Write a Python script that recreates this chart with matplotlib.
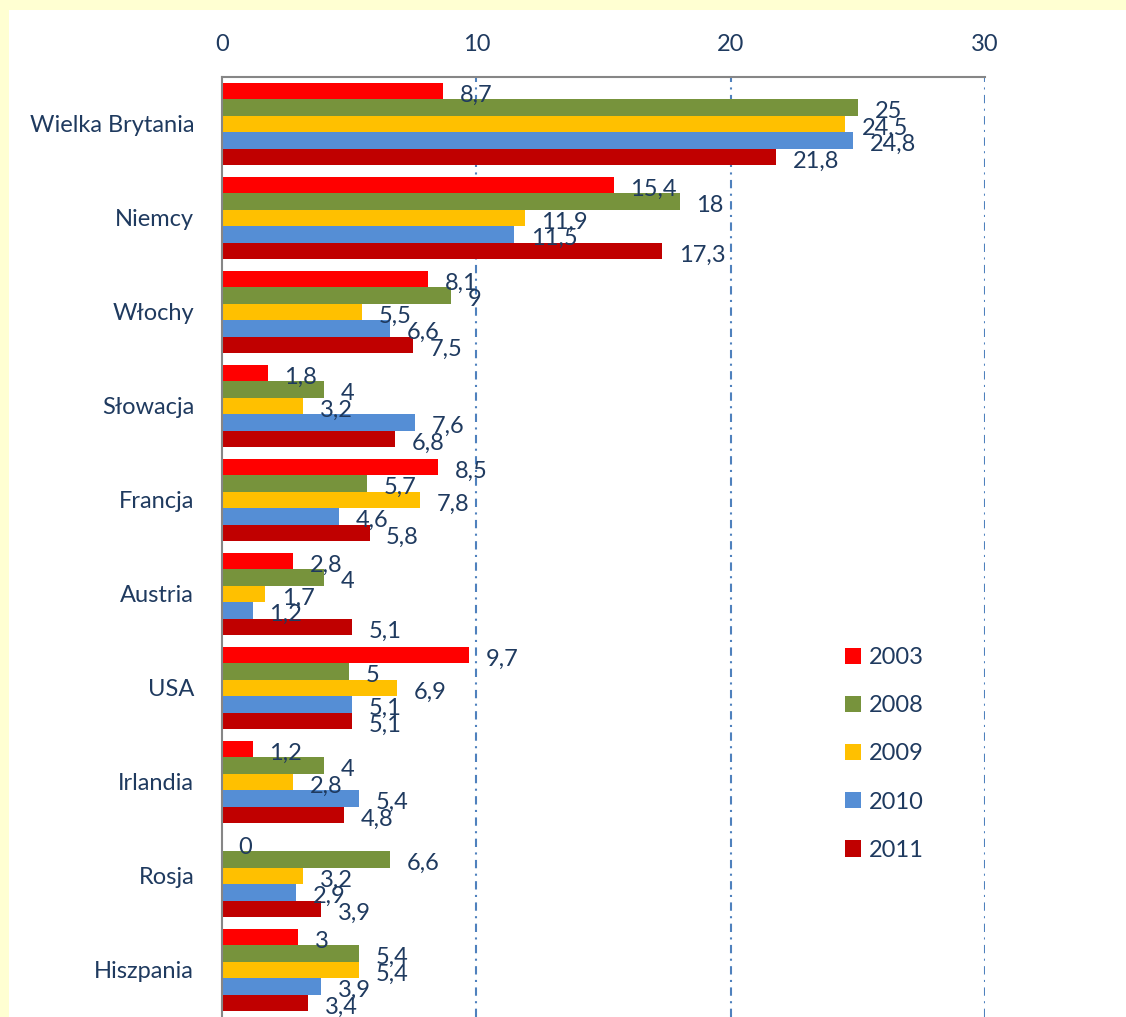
import matplotlib.pyplot as plt
from matplotlib.patches import Rectangle, Patch
import numpy as np

countries = ["Wielka Brytania", "Niemcy", "Włochy", "Słowacja", "Francja",
             "Austria", "USA", "Irlandia", "Rosja", "Hiszpania"]
years = ["2003", "2008", "2009", "2010", "2011"]
v2003 = [8.7, 15.4, 8.1, 1.8, 8.5, 2.8, 9.7, 1.2, 0, 3]
v2008 = [25, 18, 9, 4, 5.7, 4, 5, 4, 6.6, 5.4]
v2009 = [24.5, 11.9, 5.5, 3.2, 7.8, 1.7, 6.9, 2.8, 3.2, 5.4]
v2010 = [24.8, 11.5, 6.6, 7.6, 4.6, 1.2, 5.1, 5.4, 2.9, 3.9]
v2011 = [21.8, 17.3, 7.5, 6.8, 5.8, 5.1, 5.1, 4.8, 3.9, 3.4]
colors = ["#FF0000", "#77933C", "#FFC000", "#558ED5", "#C00000"]

txt = "#1F3A5F"
plt.rcParams['font.family'] = ['Lato', 'DejaVu Sans']

fig = plt.figure(figsize=(11.26, 10.17), dpi=100)
fig.patch.set_facecolor("#FFFFD2")
fig.patches.append(Rectangle((9 / 1126, 0), 1, 1 - 10 / 1017, transform=fig.transFigure,
                             facecolor="white", edgecolor="none", zorder=-1))

ax = fig.add_axes([222 / 1126, 0, 763 / 1126, 1 - 77 / 1017])
ax.set_facecolor("white")

series = [v2003, v2008, v2009, v2010, v2011]
h = 0.1745
y = np.arange(len(countries))
for j, vals in enumerate(series):
    pos = y - 2.5 * h + h * (j + 0.5)
    ax.barh(pos, vals, height=h, color=colors[j], zorder=2)
    for p, v in zip(pos, vals):
        lab = ("%g" % v).replace(".", ",")
        ax.annotate(lab, (v, p), xytext=(12, -3), textcoords="offset points",
                    va="center", ha="left", fontsize=17, color=txt, zorder=3)

ax.set_xlim(0, 30)
ax.set_ylim(len(countries) - 0.5, -0.5)
ax.set_xticks([0, 10, 20, 30])
ax.xaxis.tick_top()
ax.tick_params(axis="x", length=0, pad=16, labelsize=17, labelcolor=txt)
ax.set_yticks(y)
ax.set_yticklabels(countries)
ax.tick_params(axis="y", length=0, pad=20, labelsize=17, labelcolor=txt)

for gx in [10, 20, 30]:
    ax.axvline(gx, color="#4F81BD", lw=1.5, linestyle=(0, (4, 2.6, 1.0, 2.6)), zorder=1)

for s in ["right", "bottom"]:
    ax.spines[s].set_visible(False)
for s in ["top", "left"]:
    ax.spines[s].set_color("#868686")
    ax.spines[s].set_linewidth(1.5)

handles = [Patch(facecolor=c, edgecolor="none") for c in colors]
fig.legend(handles, years, loc="center left", bbox_to_anchor=(845 / 1126, 1 - 754 / 1017),
           frameon=False, fontsize=17, labelcolor=txt, handlelength=0.68, handleheight=0.68,
           handletextpad=0.35, labelspacing=1.15, borderpad=0, borderaxespad=0)

fig.savefig("out.png", dpi=100)
